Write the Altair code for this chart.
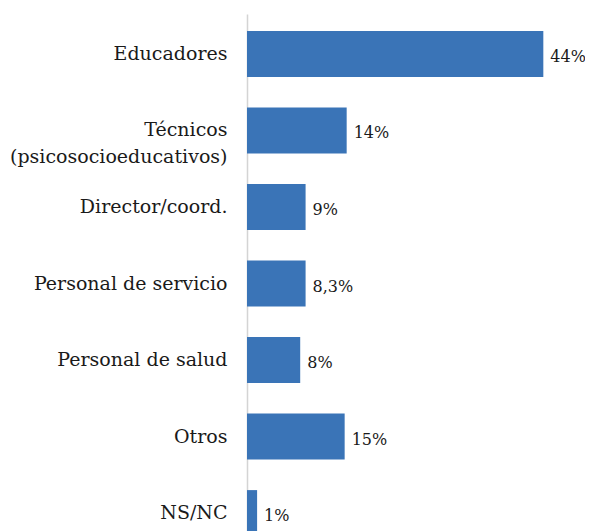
import altair as alt
import pandas as pd

categories = [
    "Educadores",
    "Técnicos|(psicosocioeducativos)",
    "Director/coord.",
    "Personal de servicio",
    "Personal de salud",
    "Otros",
    "NS/NC",
]
values = [44.0, 14.8, 8.7, 8.7, 7.9, 14.5, 1.5]
labels = ["44%", "14%", "9%", "8,3%", "8%", "15%", "1%"]

df = pd.DataFrame({"cat": categories, "val": values, "lab": labels})

FONT = "DejaVu Serif"

y = alt.Y(
    "cat:N",
    sort=None,
    scale=alt.Scale(range=[0, 539], paddingInner=0.4, paddingOuter=0.222),
    axis=alt.Axis(
        title=None,
        ticks=False,
        domainColor="#d4d4d4",
        domainWidth=1.5,
        labelFont=FONT,
        labelFontSize=19,
        labelColor="#1a1a1a",
        labelPadding=20,
        labelLineHeight=27,
        labelLimit=400,
        labelExpr="split(datum.label, '|')",
    ),
)
x = alt.X("val:Q", scale=alt.Scale(domain=[0, 49]), axis=None)

bars = alt.Chart(df).mark_bar(clip=True, color="#3a74b7").encode(x=x, y=y)
text = alt.Chart(df).mark_text(
    align="left", baseline="middle", dx=7, dy=3, font=FONT, fontSize=16, color="#1a1a1a"
).encode(x=x, y=y, text="lab:N")

chart = (
    alt.layer(bars, text)
    .properties(
        width=330,
        height=517,
        autosize=alt.AutoSizeParams(type="none"),
        padding={"left": 239, "top": 6, "right": 8, "bottom": 0},
    )
    .configure_view(stroke=None)
)

chart.save("out.html", embed_options={"renderer": "svg", "actions": False})
